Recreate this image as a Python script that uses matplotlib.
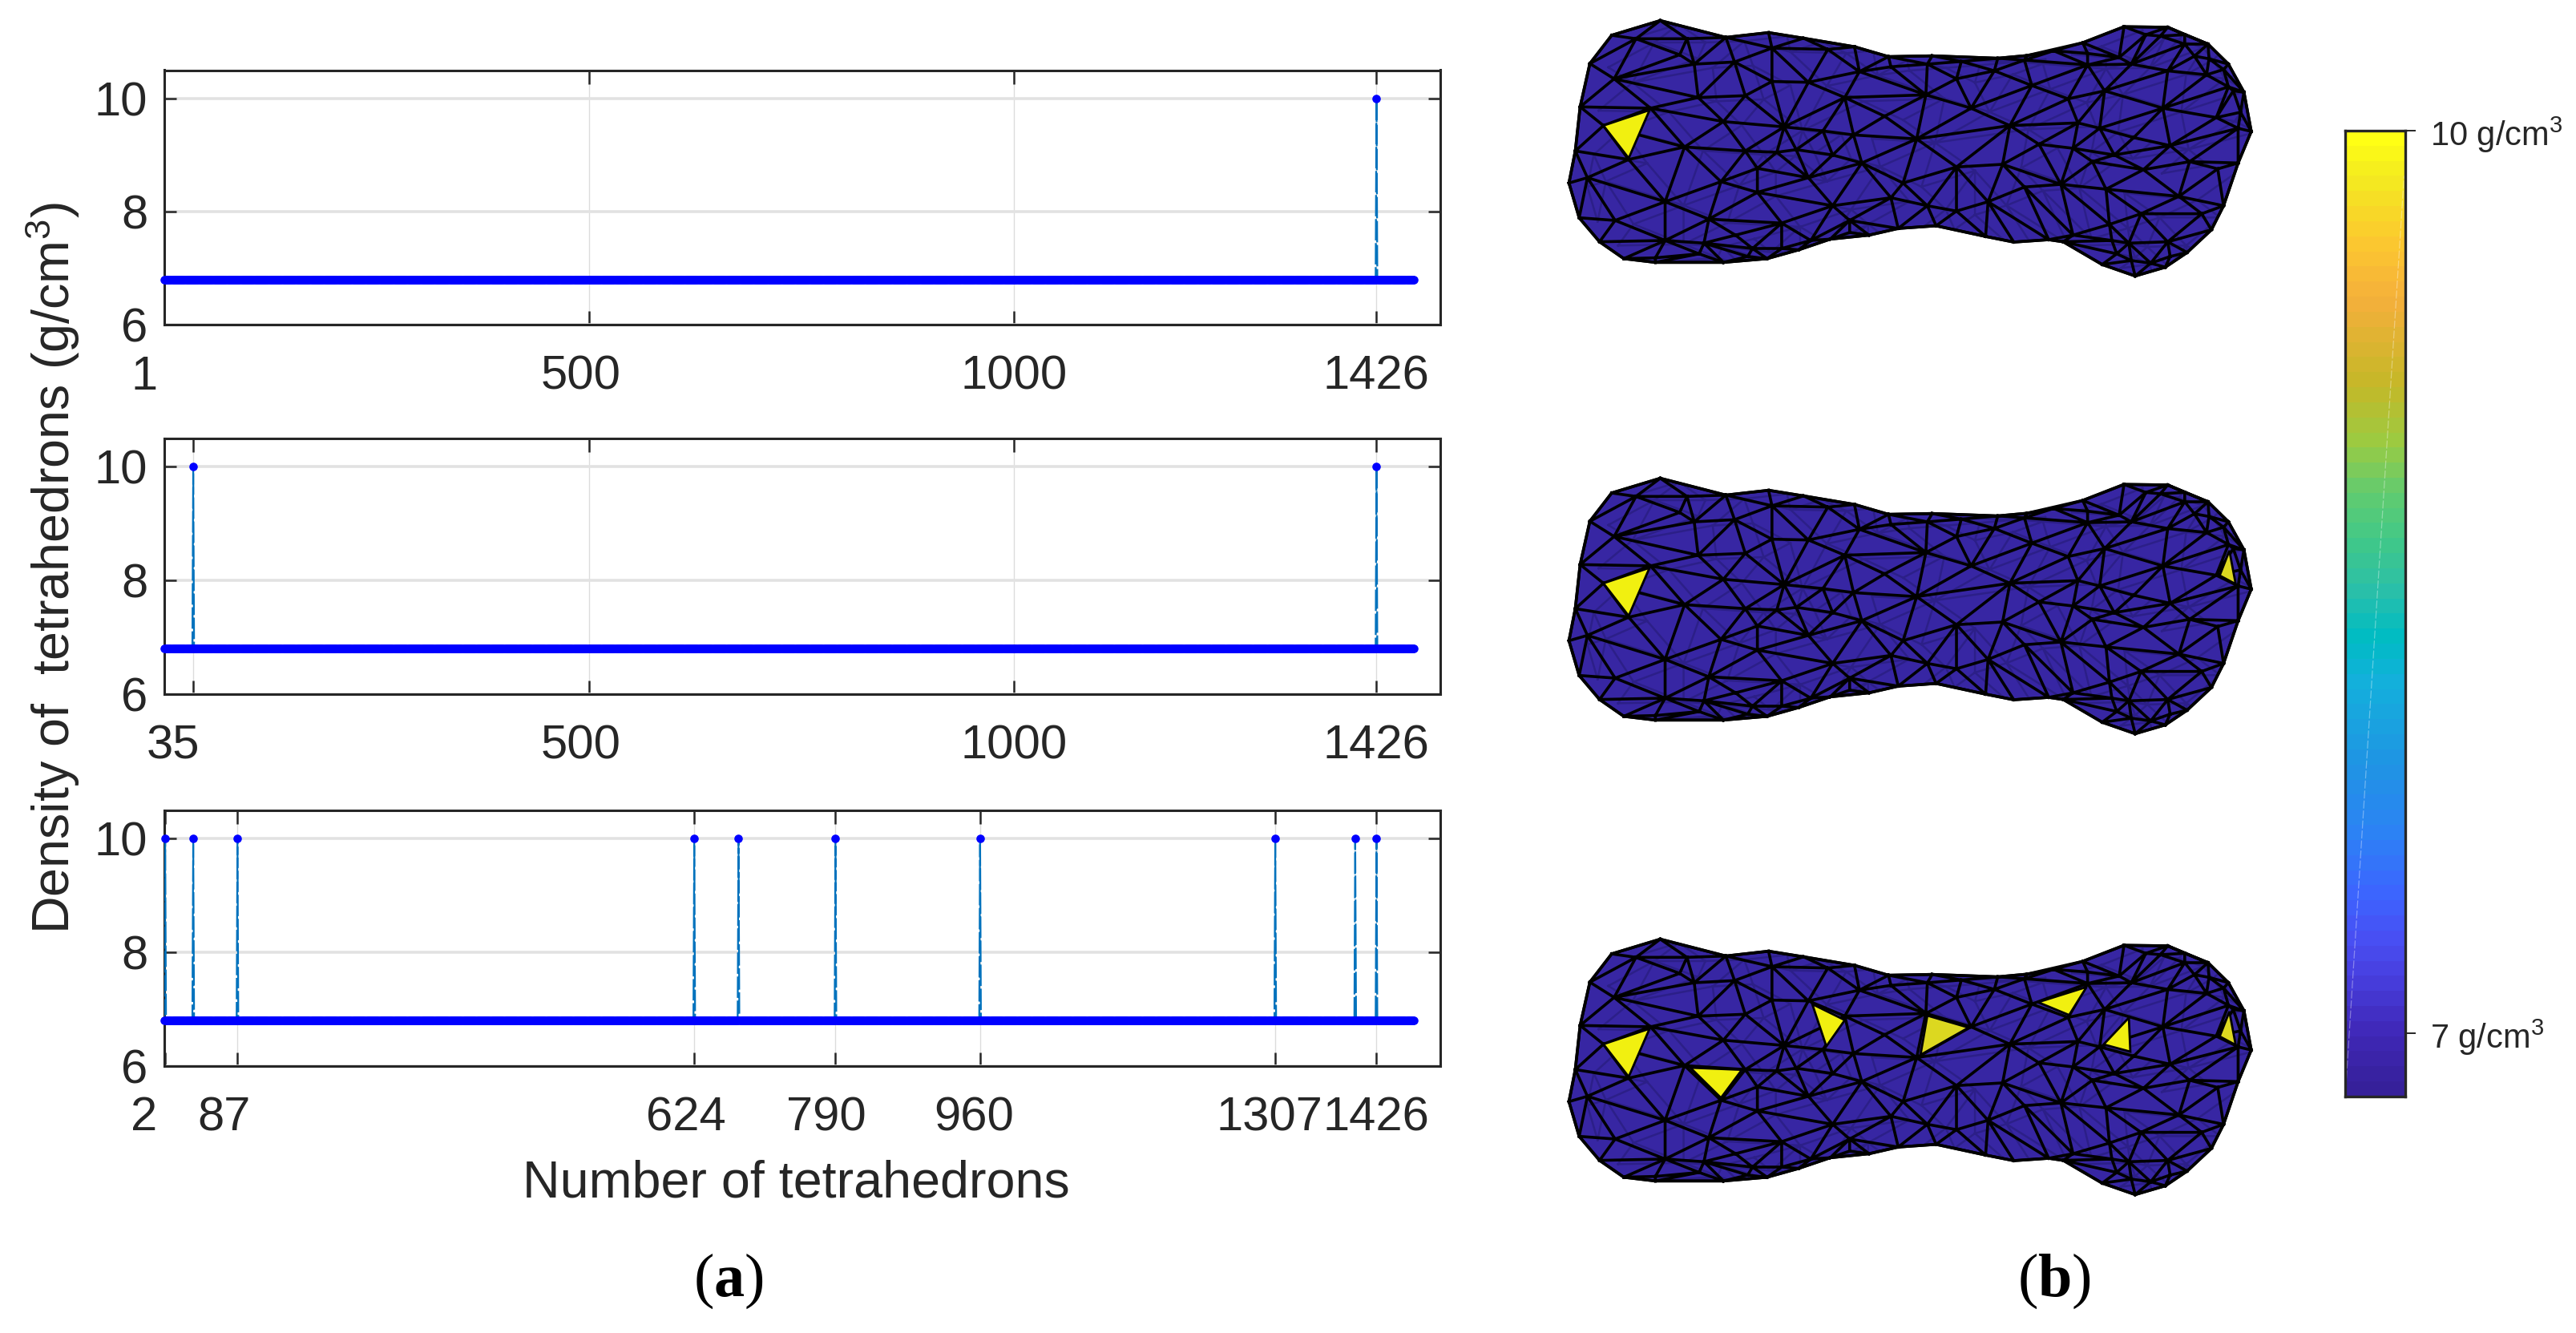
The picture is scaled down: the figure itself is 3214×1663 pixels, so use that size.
import numpy as np
import matplotlib
matplotlib.use('Agg')
import matplotlib.pyplot as plt
import matplotlib.tri as mtri
from matplotlib.colors import LinearSegmentedColormap
from matplotlib.patches import Polygon
from matplotlib.path import Path
from matplotlib.transforms import ScaledTranslation

plt.rcParams['font.family'] = ['Liberation Sans', 'DejaVu Sans']
plt.rcParams['mathtext.fontset'] = 'custom'
plt.rcParams['mathtext.rm'] = 'Liberation Sans'
plt.rcParams['mathtext.bf'] = 'Liberation Serif:bold'
plt.rcParams['mathtext.default'] = 'regular'

W, H = 3214, 1663
N_TETRA = 1470
BASE_DENSITY = 6.8
HIGH_DENSITY = 10

spikes_top = [1426]
spikes_mid = [35, 1426]
spikes_bot = [2, 35, 87, 624, 676, 790, 960, 1307, 1401, 1426]

ticks_top = [1, 500, 1000, 1426]
ticks_mid = [35, 500, 1000, 1426]
ticks_bot = [2, 87, 624, 790, 960, 1307, 1426]
ylab_ticks = [6, 8, 10]

# mesh outline, traced off the top shape
outline_x = [150, 250, 385, 473, 545, 650, 720, 810, 945, 1005, 1120, 1205, 1295, 1378, 1420, 1452, 1467, 1440, 1410, 1385, 1335, 1290, 1228, 1160, 1080, 1050, 978, 920, 818, 740, 680, 600, 535, 470, 380, 240, 175, 125, 83, 62, 75, 85, 105]
outline_y = [132, 77, 140, 122, 143, 175, 212, 209, 218, 208, 160, 100, 102, 165, 240, 345, 492, 610, 770, 860, 945, 1000, 1033, 990, 905, 897, 906, 885, 845, 855, 880, 895, 935, 968, 982, 982, 968, 905, 815, 685, 565, 400, 238]

# inner mesh nodes
inner_x = [200, 305, 290, 320, 403, 480, 155, 230, 328, 425, 480, 555, 660, 725, 800, 870, 938, 860, 797, 712, 630, 595, 133, 185, 300, 380, 505, 648, 585, 425, 490, 530, 605, 665, 778, 890, 1015, 1130, 1195, 1280, 1330, 970, 1090, 1165, 1285, 1295, 1220, 1375, 1420, 1395, 1440, 1110, 1155, 1225, 1300, 1030, 1100, 1140, 1185, 1245, 1340, 1398, 955, 860, 750, 555, 450, 375, 450, 260, 100, 157, 350, 500, 605, 725, 800, 860, 925, 1000, 1075, 1168, 1318, 1240, 1175, 1365, 260, 340, 405, 440, 640,
           1295, 1215, 1220, 240, 330, 430, 500, 560, 640, 1190, 1300, 1260, 1180, 1100, 1330, 1250, 1380, 1350, 1410, 1430, 1445, 1130, 1060, 1000]
inner_y = [145, 145, 205, 240, 232, 180, 295, 405, 365, 358, 305, 308, 268, 250, 240, 230, 265, 295, 355, 435, 365, 185, 470, 597, 550, 455, 475, 505, 490, 565, 570, 560, 580, 610, 520, 405, 320, 243, 215, 135, 165, 470, 370, 340, 405, 265, 240, 280, 325, 440, 480, 460, 480, 515, 545, 540, 555, 605, 580, 635, 605, 632, 615, 625, 685, 665, 630, 680, 720, 755, 665, 825, 820, 835, 770, 740, 770, 790, 755, 700, 690, 708, 735, 800, 840, 800, 900, 910, 880, 930, 825,
           905, 910, 975, 965, 950, 960, 930, 900, 870, 950, 960, 985, 900, 880, 130, 130, 220, 210, 260, 340, 420, 200, 190, 225]

# yellow cells, listed by corner
tri_a = [(133, 470), (228, 412), (185, 592)]
tri_b = [(312, 558), (418, 566), (375, 671)]
tri_c = [(563, 320), (630, 380), (592, 478)]
tri_d = [(800, 363), (885, 408), (786, 510)]
tri_e = [(1028, 313), (1128, 256), (1092, 361)]
tri_f = [(1215, 371), (1163, 471), (1218, 498)]
tri_g = [(1422, 348), (1402, 441), (1435, 473)]
ghost_a = [(320, 543), (395, 516), (418, 558)]
ghost_b = [(1028, 325), (1085, 363), (1045, 398)]

parula_pos = [0, .06, .12, .16, .207, .273, .34, .427, .474, .527, .574, .627, .68, .74, .83, .89, .96, 1]
parula_col = ['#36209a', '#4028b8', '#4840e0', '#4850f4', '#3c66ff', '#2c84f4', '#2094e4', '#14b0dc', '#00bcc4', '#2cc0a8', '#40c88a', '#62cc70', '#9ccb42', '#c5b828', '#f5b03c', '#fcc830', '#f4ec20', '#ffff14']

dark = '#262626'
fig = plt.figure(figsize=(W / 100, H / 100), dpi=100, facecolor='white')


def px_axes(x0, y0, x1, y1):
    return fig.add_axes([x0 / W, 1 - y1 / H, (x1 - x0) / W, (y1 - y0) / H])


def density_panel(y0, y1, spikes, ticks, shifts):
    ax = px_axes(205, y0, 1797, y1)
    X = np.arange(1, N_TETRA + 1)
    Y = np.full(N_TETRA, BASE_DENSITY)
    Y[np.array(spikes) - 1] = HIGH_DENSITY
    ax.plot(X, Y, color='#0072BD', lw=1.6, ls=(0, (12, 1.5)), zorder=3)
    ax.plot(X, Y, ls='none', marker='o', ms=7.6, mec='none', color='#0000ff', zorder=4, clip_on=False)
    ax.set_xlim(1, 1501)
    ax.set_ylim(6, 10.5)
    ax.set_xticks(ticks)
    ax.set_yticks(ylab_ticks)
    ax.grid(True, axis='y', color='#e2e2e2', lw=2.6)
    ax.grid(True, axis='x', color='#dcdcdc', lw=1.0)
    ax.set_axisbelow(True)
    ax.tick_params(axis='x', direction='in', length=12.5, width=1.8, color=dark, top=True, pad=27, labelsize=43, labelcolor=dark)
    ax.tick_params(axis='y', direction='in', length=11, width=1.8, color=dark, right=True, pad=15, labelsize=43, labelcolor=dark)
    for s in ax.spines.values():
        s.set_linewidth(2.2)
        s.set_color(dark)
    for lab, dx in zip(ax.get_xticklabels(), shifts):
        lab.set_transform(lab.get_transform() + ScaledTranslation(dx / 100, 0, fig.dpi_scale_trans))
    return ax


density_panel(87.5, 405, spikes_top, ticks_top, [-25, -10, 0, 0])
density_panel(547, 866, spikes_mid, ticks_mid, [-25, -10, 0, 0])
density_panel(1011, 1330, spikes_bot, ticks_bot, [-26, -17, -10, -12, -8, -7, 0])

fig.text(66 / W, 1 - 709 / H, 'Density of  tetrahedrons (g/cm$^3$)', rotation=90, ha='center', va='center', fontsize=46.5, color=dark)
fig.text(993 / W, 1 - 1477 / H, 'Number of tetrahedrons', ha='center', va='center', fontsize=46.5, color=dark)
fig.text(909 / W, 1 - 1598 / H, r'($\mathbf{a}$)', ha='center', va='center', fontsize=55, family='Liberation Serif', color='black')
fig.text(2563 / W, 1 - 1598 / H, r'($\mathbf{b}$)', ha='center', va='center', fontsize=55, family='Liberation Serif', color='black')

# mesh: nodes triangulated, cells outside the outline masked off
node_x = np.array(outline_x + inner_x, dtype=float)
node_y = np.array(outline_y + inner_y, dtype=float)
mesh = mtri.Triangulation(node_x, node_y)
mid_x = node_x[mesh.triangles].mean(axis=1)
mid_y = node_y[mesh.triangles].mean(axis=1)
shape = Path(np.column_stack([outline_x, outline_y]))
keep = shape.contains_points(np.column_stack([mid_x, mid_y]))
mesh.set_mask(~keep)
# back side of the mesh, shows faintly through the front
back = mtri.Triangulation(node_x + 38, node_y + 14, mesh.triangles[keep][::2])


def mesh_panel(y_off, cells):
    ax = px_axes(1920, y_off, 2870, y_off + 360)
    ax.set_xlim(0, 1568)
    ax.set_ylim(1080, 0)
    ax.axis('off')
    body = Polygon(np.column_stack([outline_x, outline_y]), closed=True, fc='#3726a3', ec='none', zorder=1)
    ax.add_patch(body)
    for ln in ax.triplot(back, color='#2c1f88', lw=1.8, zorder=1.5):
        ln.set_clip_path(body)
    ax.triplot(mesh, color='black', lw=2.6, zorder=3)
    ax.add_patch(Polygon(np.column_stack([outline_x, outline_y]), closed=True, fc='none', ec='black', lw=2.6, zorder=3))
    # on top of the wires, the traced cells don't always share Delaunay edges
    for pts, col in cells:
        ax.add_patch(Polygon(pts, closed=True, fc=col, ec='black', lw=2.0, zorder=4))


yellow = '#f1f010'
mesh_panel(0, [(tri_a, yellow)])
mesh_panel(571, [(tri_a, yellow), (tri_g, '#dcd820')])
mesh_panel(1146, [(tri_a, yellow), (tri_b, yellow), (tri_c, yellow), (tri_d, '#dcd820'), (tri_e, yellow), (tri_f, yellow), (tri_g, '#dcd820')])

# colourbar
cb = px_axes(2926, 163, 3001, 1368)
parula = LinearSegmentedColormap.from_list('parula_like', list(zip(parula_pos, parula_col)), N=64)
cb.imshow(np.linspace(1, 0, 64)[:, None], cmap=parula, aspect='auto', extent=[0, 1, 6.79, 10], interpolation='nearest')
cb.plot([0.02, 0.98], [6.85, 9.85], color='white', lw=0.9, alpha=0.35, ls=(0, (8, 2)))
cb.set_xlim(0, 1)
cb.set_ylim(6.79, 10)
cb.set_xticks([])
cb.yaxis.tick_right()
cb.set_yticks([7, 10])
cb.set_yticklabels(['7 g/cm$^3$', '10 g/cm$^3$'])
cb.tick_params(axis='y', direction='out', length=9.4, width=1.4, color=dark, pad=13, labelsize=30, labelcolor=dark)
for s in cb.spines.values():
    s.set_linewidth(2.4)
    s.set_color(dark)

fig.savefig('out.png', dpi=100)
